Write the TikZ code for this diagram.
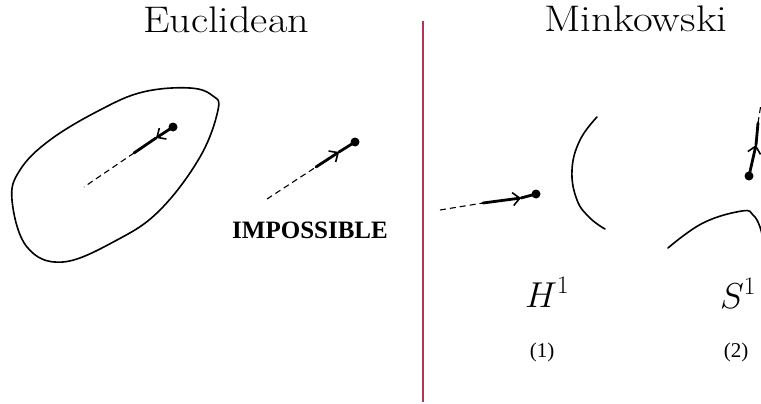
\RequirePackage{fix-cm}
\documentclass[tikz,border=0pt]{standalone}
\usepackage{fontspec}
\usepackage{graphicx}
\newfontfamily\timesfont{Liberation Serif}
\usetikzlibrary{arrows.meta}
\definecolor{divred}{RGB}{178,52,82}
\tikzset{
  curve/.style={line width=1.6pt, line join=round, line cap=round},
  dashseg/.style={line width=1.1pt, dash pattern=on 6pt off 4pt},
  solidseg/.style={line width=2.8pt, line cap=round},
  barb/.style={-{Straight Barb[length=7pt,width=13pt,line width=1.6pt]}},
  dotnode/.style={circle, fill=black, inner sep=0pt, minimum size=9pt},
  title/.style={font=\fontsize{37}{40}\selectfont, anchor=base, inner sep=0pt},
  manifold/.style={font=\fontsize{36}{40}\selectfont, anchor=base west, inner sep=0pt},
  tag/.style={font=\timesfont\fontsize{21}{24}\selectfont, anchor=base, inner sep=0pt},
  warn/.style={font=\timesfont\bfseries\fontsize{25}{28}\selectfont, anchor=base, inner sep=0pt}
}
\begin{document}
\begin{tikzpicture}[x=1pt, y=-1pt]
\path[use as bounding box] (0,0) rectangle (761,404);
\clip (0,0) rectangle (761,404);
\fill[white] (0,0) rectangle (761,404);

% titles and divider
\node[title] (euc) at (226,33) {\scalebox{1.14}[1]{Euclidean}};
\node[title] (min) at (636,32) {\scalebox{1.16}[1]{Minkowski}};
\coordinate (divtop) at (423,21);
\coordinate (divbot) at (423,402);
\draw[divred, line width=2.2pt] (divtop) -- (divbot);

% Euclidean closed orbit
\draw[curve] plot[smooth cycle, tension=0.65] coordinates {
  (218,110) (200,157) (160,210) (117,240) (63,262) (27,247) (12,200)
  (20,170) (50,140) (100,110) (143,92) (190,88) (213,96)};
\node[dotnode] (d1) at (173,127) {};
\coordinate (t1) at (156,138);
\coordinate (s1) at (134,153);
\coordinate (e1) at (84,187);
\draw[solidseg, barb] (d1.center) -- (t1);
\draw[solidseg] (t1) -- (s1);
\draw[dashseg] (s1) -- (e1);

% impossible case
\node[dotnode] (d2) at (355,142) {};
\coordinate (e2) at (267,199);
\coordinate (s2) at (316,167);
\coordinate (t2) at (339,152);
\draw[dashseg] (e2) -- (s2);
\draw[solidseg, barb] (s2) -- (t2);
\draw[solidseg] (t2) -- (d2.center);
\node[warn] (imp) at (310,238) {IMPOSSIBLE};

% Minkowski H^1
\node[dotnode] (d3) at (536,194) {};
\coordinate (e3) at (440,210);
\coordinate (s3) at (483,203);
\coordinate (t3) at (521,198);
\draw[dashseg] (e3) -- (s3);
\draw[solidseg, barb] (s3) -- (t3);
\draw[solidseg] (t3) -- (d3.center);
\draw[curve] plot[smooth, tension=0.7] coordinates {
  (597,117) (580,140) (572,170) (577,200) (590,218) (605,229)};
\node[manifold] (h1) at (525,307) {$H^1$};
\node[tag] (n1) at (542,357) {(1)};

% Minkowski S^1
\node[dotnode] (d4) at (749,176) {};
\coordinate (t4) at (756,145);
\coordinate (s4) at (758,123);
\coordinate (e4) at (761,104);
\draw[solidseg, barb] (d4.center) -- (t4);
\draw[solidseg] (t4) -- (s4);
\draw[dashseg] (s4) -- (e4);
\draw[curve] plot[smooth, tension=0.7] coordinates {
  (668,248) (703,223) (742,211) (753,215) (760,227) (764,245)};
\node[manifold] (s1lbl) at (720,308) {$S^1$};
\node[tag] (n2) at (736,357) {(2)};
\end{tikzpicture}
\end{document}
